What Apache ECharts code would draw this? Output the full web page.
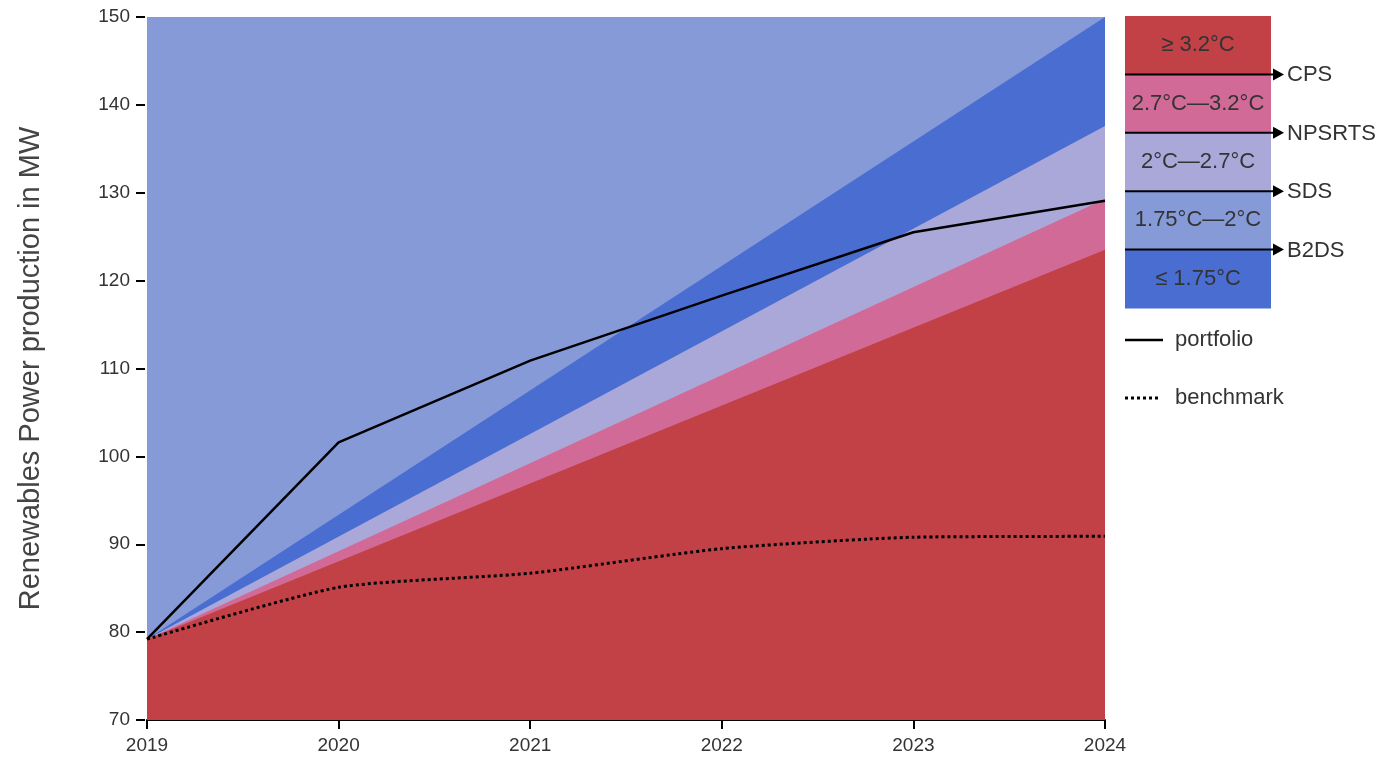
<!DOCTYPE html>
<html>
<head>
<meta charset="utf-8">
<script src="https://cdn.jsdelivr.net/npm/echarts@6/dist/echarts.min.js"></script>
<style>
  html, body { margin: 0; padding: 0; background: #fff; }
  #chart { width: 1379px; height: 757px; }
</style>
</head>
<body>
<div id="chart"></div>
<script>
const YEARS = [2019, 2020, 2021, 2022, 2023, 2024];
const BAND_X = [2019, 2024];

// upper edge of each scenario band (straight lines between start and end year)
const TOP_EDGE = [150, 150];
const B2DS = [79.2, 150];
const SDS = [79.2, 137.6];
const NPSRTS = [79.2, 129.3];
const CPS = [79.2, 123.5];

const portfolio = [79.2, 101.6, 110.9, 118.3, 125.5, 129.1];
const benchmark = [79.2, 85.1, 86.7, 89.5, 90.8, 90.9];

const BAND_LABELS = ['≥ 3.2°C', '2.7°C—3.2°C', '2°C—2.7°C', '1.75°C—2°C', '≤ 1.75°C'];
const SCENARIOS = ['CPS', 'NPSRTS', 'SDS', 'B2DS'];

const COLORS = {
  red: '#c14146',
  pink: '#d26a97',
  lavender: '#aaa8d9',
  light: '#869ad8',
  blue: '#4a6dd1',
  text: '#333333'
};
const FONT = '"Liberation Sans", Arial, sans-serif';

const chart = echarts.init(document.getElementById('chart'));

function band(name, values, color, z) {
  return {
    name,
    type: 'line',
    data: BAND_X.map((x, i) => [x, values[i]]),
    symbol: 'none',
    lineStyle: { width: 0 },
    areaStyle: { color, opacity: 1, origin: 'start' },
    itemStyle: { color },
    z,
    silent: true,
    animation: false
  };
}

// legend box on the right
const boxLeft = 1125, boxTop = 16, boxW = 146, rowH = 58.4;
const boxColors = [COLORS.red, COLORS.pink, COLORS.lavender, COLORS.light, COLORS.blue];
const graphic = [];
BAND_LABELS.forEach((label, i) => {
  graphic.push({
    type: 'rect',
    shape: { x: boxLeft, y: boxTop + i * rowH, width: boxW, height: rowH + 0.5 },
    style: { fill: boxColors[i] },
    silent: true
  });
  graphic.push({
    type: 'text',
    x: boxLeft + boxW / 2,
    y: boxTop + i * rowH + rowH / 2,
    style: {
      text: label,
      fill: COLORS.text,
      font: '22px ' + FONT,
      align: 'center',
      verticalAlign: 'middle'
    },
    silent: true
  });
});
SCENARIOS.forEach((name, i) => {
  const y = boxTop + (i + 1) * rowH;
  graphic.push({
    type: 'line',
    shape: { x1: boxLeft, y1: y, x2: boxLeft + 150, y2: y },
    style: { stroke: '#000', lineWidth: 2 },
    silent: true
  });
  graphic.push({
    type: 'polygon',
    shape: { points: [[boxLeft + 148, y - 6], [boxLeft + 159, y], [boxLeft + 148, y + 6]] },
    style: { fill: '#000' },
    silent: true
  });
  graphic.push({
    type: 'text',
    x: boxLeft + 162,
    y: y + 1,
    style: { text: name, fill: COLORS.text, font: '22px ' + FONT, verticalAlign: 'middle' },
    silent: true
  });
});
graphic.push(
  { type: 'line', shape: { x1: 1125, y1: 340, x2: 1163, y2: 340 }, style: { stroke: '#000', lineWidth: 2.5 }, silent: true },
  { type: 'text', x: 1175, y: 340, style: { text: 'portfolio', fill: COLORS.text, font: '22px ' + FONT, verticalAlign: 'middle' }, silent: true },
  { type: 'line', shape: { x1: 1125, y1: 398, x2: 1161, y2: 398 }, style: { stroke: '#000', lineWidth: 3, lineDash: [3, 3] }, silent: true },
  { type: 'text', x: 1175, y: 398, style: { text: 'benchmark', fill: COLORS.text, font: '22px ' + FONT, verticalAlign: 'middle' }, silent: true }
);

const option = {
  backgroundColor: '#fff',
  animation: false,
  textStyle: { fontFamily: FONT },
  grid: { left: 147, right: 274, top: 17, bottom: 37 },
  xAxis: {
    type: 'value',
    min: 2019,
    max: 2024,
    interval: 1,
    axisLine: { show: true, lineStyle: { color: '#000', width: 2 } },
    axisTick: { show: true, length: 9, lineStyle: { color: '#000', width: 2 } },
    axisLabel: { color: COLORS.text, fontSize: 19, margin: 16, formatter: v => String(v) },
    splitLine: { show: false }
  },
  yAxis: {
    type: 'value',
    min: 70,
    max: 150,
    interval: 10,
    name: 'Renewables Power production in MW',
    nameLocation: 'middle',
    nameGap: 100,
    nameTextStyle: { color: '#444', fontSize: 29, fontFamily: FONT },
    offset: 2,
    axisLine: { show: false },
    axisTick: { show: true, length: 9, lineStyle: { color: '#000', width: 2 } },
    axisLabel: { color: COLORS.text, fontSize: 19, margin: 15 },
    splitLine: { show: false }
  },
  series: [
    band('above', TOP_EDGE, COLORS.light, 1),
    band('B2DS', B2DS, COLORS.blue, 2),
    band('SDS', SDS, COLORS.lavender, 3),
    band('NPSRTS', NPSRTS, COLORS.pink, 4),
    band('CPS', CPS, COLORS.red, 5),
    {
      name: 'portfolio',
      type: 'line',
      data: YEARS.map((x, i) => [x, portfolio[i]]),
      symbol: 'none',
      lineStyle: { color: '#000', width: 2.5 },
      z: 10
    },
    {
      name: 'benchmark',
      type: 'line',
      data: YEARS.map((x, i) => [x, benchmark[i]]),
      symbol: 'none',
      smooth: 0.2,
      lineStyle: { color: '#000', width: 3, type: [3, 3] },
      z: 10
    }
  ],
  graphic
};

chart.setOption(option);
</script>
</body>
</html>
